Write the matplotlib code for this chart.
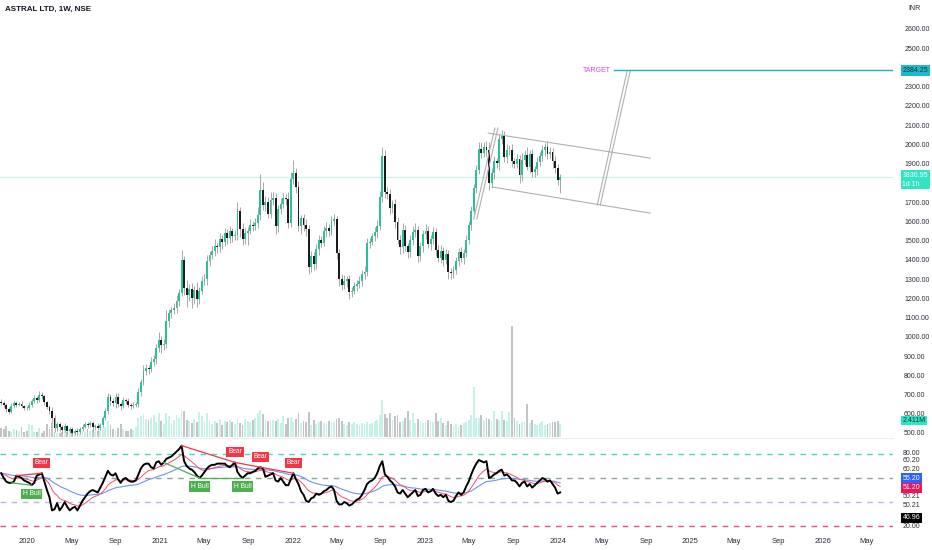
import numpy as np
import pandas as pd
import matplotlib
matplotlib.use("Agg")
import matplotlib.pyplot as plt
import matplotlib.dates as mdates
from matplotlib.ticker import FuncFormatter

plt.rcParams['font.family'] = ['Liberation Sans', 'DejaVu Sans']

# weekly candles, the last one is the week of 8 Jan 2024
last_week = "2024-01-08"
first_open = 660

closes = [
    655, 645, 625, 610, 640, 655, 648, 652, 640, 632,
    628, 645, 665, 680, 672, 700, 690, 660, 635, 615,
    580, 525, 545, 530, 515, 535, 510, 520, 500, 512,
    505, 520, 532, 545, 540, 552, 530, 538, 528, 542,
    580, 615, 685, 668, 655, 688, 650, 640, 672, 668,
    645, 638, 648, 652, 712, 765, 822, 838, 832, 870,
    885, 940, 985, 955, 962, 1080, 1125, 1140, 1150, 1185,
    1230, 1400, 1255, 1215, 1250, 1200, 1245, 1195, 1240, 1290,
    1300, 1395, 1425, 1445, 1470, 1465, 1510, 1495, 1540, 1515,
    1548, 1522, 1530, 1655, 1560, 1508, 1538, 1552, 1580, 1575,
    1590, 1635, 1765, 1685, 1700, 1640, 1712, 1722, 1575, 1665,
    1690, 1720, 1715, 1590, 1820, 1850, 1780, 1575, 1615, 1580,
    1560, 1365, 1420, 1380, 1455, 1505, 1490, 1550, 1565, 1548,
    1602, 1610, 1435, 1300, 1270, 1290, 1298, 1232, 1240, 1262,
    1275, 1292, 1325, 1338, 1488, 1495, 1522, 1545, 1578, 1725,
    1940, 1752, 1740, 1668, 1690, 1595, 1505, 1465, 1555, 1470,
    1440, 1505, 1545, 1555, 1420, 1470, 1535, 1552, 1482, 1510,
    1545, 1452, 1410, 1445, 1400, 1430, 1338, 1332, 1345, 1395,
    1440, 1410, 1438, 1505, 1580, 1655, 1775, 1865, 1975, 1958,
    1985, 1970, 1800, 1850, 1912, 1905, 2030, 2045, 1935, 1970,
    1970, 1912, 1900, 1925, 1840, 1920, 1945, 1885, 1950, 1855,
    1870, 1910, 1940, 1970, 1985, 1950, 1960, 1915, 1880, 1815, 1830.95,
]

hi_wick = [
    15, 10, 12, 8, 15, 10, 12, 10, 14, 8,
    10, 18, 12, 15, 10, 20, 12, 10, 8, 10,
    20, 15, 10, 12, 10, 15, 8, 12, 10, 10,
    12, 10, 15, 12, 10, 12, 10, 8, 12, 10,
    10, 15, 25, 20, 15, 18, 20, 12, 15, 10,
    12, 10, 15, 10, 20, 15, 30, 20, 15, 25,
    20, 25, 40, 20, 25, 60, 20, 15, 25, 30,
    20, 50, 20, 40, 25, 30, 20, 40, 20, 25,
    25, 30, 20, 25, 40, 20, 30, 20, 25, 20,
    30, 20, 25, 45, 20, 30, 25, 20, 30, 20,
    25, 40, 80, 40, 30, 25, 40, 30, 25, 20,
    30, 25, 20, 40, 35, 70, 25, 30, 20, 25,
    30, 20, 25, 20, 30, 25, 20, 25, 30, 20,
    25, 30, 20, 20, 25, 30, 20, 25, 20, 25,
    20, 25, 20, 30, 25, 20, 20, 25, 30, 35,
    45, 30, 25, 30, 20, 25, 30, 25, 35, 25,
    20, 25, 30, 35, 20, 25, 20, 35, 25, 20,
    25, 20, 25, 30, 20, 25, 20, 20, 25, 20,
    20, 25, 20, 25, 20, 25, 20, 30, 35, 40,
    30, 35, 40, 25, 30, 20, 25, 30, 25, 30,
    25, 30, 20, 25, 20, 35, 25, 40, 20, 25,
    20, 25, 20, 25, 20, 35, 25, 20, 25, 20, 15,
]

lo_wick = [
    10, 12, 15, 10, 8, 10, 12, 10, 8, 12,
    10, 8, 12, 10, 15, 10, 12, 15, 12, 15,
    30, 20, 15, 20, 15, 12, 15, 12, 10, 10,
    10, 12, 10, 8, 12, 10, 15, 10, 12, 10,
    10, 12, 15, 20, 15, 25, 15, 20, 12, 15,
    12, 15, 10, 12, 15, 20, 15, 20, 25, 15,
    20, 25, 20, 40, 25, 20, 30, 25, 20, 25,
    25, 20, 40, 60, 30, 50, 30, 40, 25, 20,
    20, 30, 25, 20, 25, 30, 25, 40, 25, 30,
    25, 30, 20, 25, 40, 30, 25, 60, 20, 25,
    20, 25, 30, 25, 30, 25, 20, 25, 40, 30,
    25, 20, 30, 25, 20, 25, 30, 25, 40, 30,
    35, 40, 30, 35, 25, 30, 25, 20, 30, 25,
    20, 25, 30, 35, 25, 20, 30, 35, 25, 20,
    25, 20, 30, 25, 20, 25, 20, 25, 30, 25,
    25, 30, 25, 30, 25, 30, 25, 35, 30, 25,
    30, 25, 30, 25, 30, 25, 30, 25, 20, 30,
    25, 30, 20, 25, 30, 20, 35, 30, 25, 20,
    25, 20, 30, 25, 20, 25, 20, 25, 20, 30,
    25, 30, 35, 25, 30, 25, 40, 30, 25, 30,
    25, 30, 20, 25, 40, 30, 25, 20, 35, 25,
    25, 30, 20, 25, 30, 25, 20, 40, 30, 25, 65,
]

# weekly volume, millions of shares
volumes = [
    1.6, 1.4, 2.0, 1.2, 1.0, 1.5, 1.3, 1.1, 1.8, 1.0,
    1.2, 2.5, 2.2, 0.9, 1.0, 1.6, 0.8, 1.2, 2.4, 1.5,
    2.6, 1.0, 0.7, 0.8, 0.9, 1.3, 1.0, 1.2, 0.8, 1.1,
    1.0, 0.9, 1.1, 1.0, 1.4, 1.2, 1.3, 1.5, 1.2, 1.1,
    1.6, 1.8, 3.0, 2.2, 1.5, 1.3, 1.7, 2.4, 1.4, 1.2,
    1.1, 1.5, 1.3, 1.8, 3.5, 3.9, 4.2, 3.4, 3.2, 3.6,
    4.0, 2.8, 4.5, 3.0, 2.5, 4.4, 3.8, 2.6, 3.2, 4.0,
    3.5, 5.0, 4.8, 3.2, 3.0, 2.6, 3.4, 2.8, 4.6, 3.8,
    3.0, 4.4, 3.2, 2.5, 3.0, 2.6, 3.4, 2.2, 3.0, 2.8,
    3.2, 2.7, 2.4, 3.6, 2.6, 2.2, 3.4, 2.9, 2.8, 3.1,
    3.6, 4.5, 5.0, 4.2, 3.1, 3.0, 2.9, 3.2, 3.0, 3.3,
    2.6, 3.8, 2.4, 3.5, 3.7, 2.8, 3.4, 4.5, 2.6, 3.0,
    2.8, 4.6, 2.2, 3.1, 2.4, 2.8, 3.0, 2.6, 2.4, 2.9,
    2.6, 2.8, 3.4, 3.6, 2.9, 2.5, 2.3, 2.7, 2.4, 2.8,
    2.4, 2.2, 2.6, 2.4, 2.8, 2.5, 2.6, 3.0, 3.2, 4.0,
    6.8, 4.2, 3.6, 4.5, 3.2, 3.8, 4.0, 2.8, 3.0, 3.6,
    4.8, 3.2, 4.5, 2.6, 3.4, 3.0, 2.6, 2.8, 3.2, 3.0,
    2.8, 4.5, 3.0, 3.5, 2.6, 2.2, 3.0, 2.4, 2.1, 2.4,
    2.0, 2.2, 2.6, 2.8, 3.2, 4.0, 9.2, 3.6, 3.6, 4.0,
    3.2, 3.5, 3.3, 3.0, 4.8, 3.4, 3.2, 4.8, 3.2, 3.0,
    4.6, 20.5, 3.6, 3.0, 2.4, 2.8, 3.0, 6.2, 2.6, 3.2,
    2.4, 2.2, 2.6, 2.9, 2.2, 2.5, 2.6, 2.8, 2.7, 2.9, 2.411,
]

rsi = [
    64, 60, 57, 56, 56, 57, 62, 61, 60, 58,
    57, 56, 54, 56, 62, 63, 64, 57, 50, 44,
    33, 34, 39, 33, 36, 40, 36, 33, 35, 36,
    33, 37, 41, 44, 47, 49, 50, 49, 48, 52,
    56, 61, 66, 63, 62, 64, 59, 56, 59, 60,
    58, 57, 57, 58, 63, 68, 71, 72, 72, 69,
    68, 73, 74, 71, 73, 76, 77, 78, 80, 82,
    84, 87, 74, 70, 68, 67, 65, 62, 60, 62,
    65, 68, 70, 71, 71, 72, 72, 72, 72, 70,
    69, 71, 73, 65, 62, 60, 62, 64, 64, 65,
    66, 68, 69, 68, 61, 62, 63, 64, 58, 57,
    60, 57, 54, 54, 59, 64, 59, 55, 49, 46,
    41, 40, 43, 44, 47, 46, 47, 49, 50, 52,
    53, 50, 41, 38, 38, 40, 39, 37, 38, 40,
    42, 43, 46, 50, 55, 57, 58, 60, 64, 70,
    74, 63, 61, 58, 56, 53, 48, 47, 50, 47,
    44, 46, 48, 50, 45, 46, 50, 51, 48, 49,
    51, 47, 45, 46, 44, 46, 41, 40, 41, 45,
    48, 46, 48, 53, 57, 63, 68, 72, 75, 74,
    73, 74, 60, 61, 63, 64, 66, 67, 62, 63,
    61, 58, 58, 56, 53, 56, 57, 53, 55, 52,
    54, 56, 58, 60, 59, 57, 58, 55, 52, 47, 48,
]

# divergence pivots (candle index pairs)
bear_pairs = [(6, 16), (71, 92), (92, 102), (102, 115)]
hbull_pairs = [(4, 12), (64, 78), (78, 95)]

# hand drawn flag pattern, (week index, price)
flag_upper = [(191.7, 2059), (255.4, 1929)]
flag_lower = [(193.2, 1779), (255.4, 1643)]
pole_a = [(186.0, 1612), (194.3, 2085)]
pole_b = [(187.2, 1612), (195.5, 2085)]
proj_a = [(234.6, 1685), (246.4, 2384.25)]
proj_b = [(235.8, 1685), (247.6, 2384.25)]
target = 2384.25
target_start = 241.0

n = min(len(closes), len(hi_wick), len(lo_wick), len(volumes), len(rsi))
closes = np.array(closes[:n], dtype=float)
opens = np.r_[first_open, closes[:-1]]
highs = np.maximum(opens, closes) + np.array(hi_wick[:n])
lows = np.minimum(opens, closes) - np.array(lo_wick[:n])
vol = np.array(volumes[:n])
rsi_s = pd.Series(rsi[:n], dtype=float)
rsi_ma = rsi_s.ewm(span=9, adjust=False).mean()
rsi_slow = rsi_s.ewm(span=30, adjust=False).mean()

dates = pd.date_range(end=last_week, periods=n, freq="7D")
x = mdates.date2num(dates)
x0 = x[0]

def wx(i):
    return x0 + 7 * i

W, H = 932, 550
fig = plt.figure(figsize=(W / 100, H / 100), dpi=100)
fig.patch.set_facecolor("white")

ax = fig.add_axes([0, (H - 437) / H, 893 / W, 437 / H])
ax_r = fig.add_axes([0, (H - 532) / H, 893 / W, 92 / H], sharex=ax)
axv = ax.twinx()

up = closes >= opens
green = "#2bbf9c"
black = "#1c1c1c"

# volume
axv.bar(x, vol, width=5.0, color=np.where(up, "#c6f3e9", "#c4c4c6"), linewidth=0)
axv.set_ylim(0, 437 / 5.4)
axv.axis("off")
ax.set_zorder(axv.get_zorder() + 1)
ax.patch.set_visible(False)

# candles
ax.vlines(x, lows, highs, color="#9a9a9a", lw=0.6, zorder=2)
body = np.maximum(np.abs(closes - opens), 3)
ax.bar(x, body, bottom=np.minimum(opens, closes), width=5.2,
       color=np.where(up, green, black), linewidth=0, zorder=3)

ax.axhline(closes[-1], color="#c9f5ec", lw=0.9, zorder=1)

line_col = "#b0b0b0"
for seg in (flag_upper, flag_lower, pole_a, pole_b, proj_a, proj_b):
    ax.plot([wx(seg[0][0]), wx(seg[1][0])], [seg[0][1], seg[1][1]],
            color=line_col, lw=0.8, zorder=4)
ax.plot([wx(target_start), x[-1] + 2000], [target, target], color="#1faec4", lw=1, zorder=4)
ax.text(wx(target_start) - 1 * 7, target, "TARGET", color="#e040fb", fontsize=5,
        ha="right", va="center")

ax.set_xlim(x0 - 3.3, x[-1] + 917)
ax.set_ylim(479.2, 2750.7)
ax.yaxis.tick_right()
# 1800 and 2400 sit under the price badges
ax.set_yticks([v for v in range(500, 2700, 100) if v not in (1800, 2400)])
ax.yaxis.set_major_formatter(FuncFormatter(lambda v, p: f"{v:.2f}"))
ax.tick_params(axis="y", length=0, pad=8, labelsize=5, labelcolor="#2a2e39")
ax.tick_params(axis="x", bottom=False, labelbottom=False)
for s in ax.spines.values():
    s.set_visible(False)

lx = 1.0105
yt = ax.get_yaxis_transform()
ax.text(lx, target, "2384.25", transform=yt, fontsize=5, color="#0b3640",
        va="center", ha="left", bbox=dict(fc="#1fb8cc", ec="none", pad=1.2))
ax.text(lx, 1856, "1830.95\n1d 1h", transform=yt, fontsize=5, color="#ffffff",
        va="top", ha="left", linespacing=1.3, bbox=dict(fc="#2ee6c2", ec="none", pad=1.3))
ax.text(lx, vol[-1], "2.411M", transform=axv.get_yaxis_transform(), fontsize=5,
        color="#0b3640", va="bottom", ha="left", bbox=dict(fc="#2ee6c2", ec="none", pad=1.0))
fig.text(908 / W, 1 - 9 / H, "INR", fontsize=5, color="#2a2e39", va="center")
fig.text(5 / W, 1 - 9 / H, "ASTRAL LTD, 1W, NSE", fontsize=5.8, weight="bold",
         color="#131722", va="center")

# RSI panel
for lvl, c in [(80, "#4fd3b8"), (60, "#8aa896"), (40, "#b9b7e8"), (20, "#e2507a")]:
    ax_r.axhline(lvl, color=c, lw=1, dashes=(4, 4))
ax_r.plot(x, rsi_slow, color="#6f93ea", lw=0.8)
ax_r.plot(x, rsi_ma, color="#f0506e", lw=0.7)
ax_r.plot(x, rsi_s, color="#000000", lw=1.4)

for a, b in bear_pairs:
    ax_r.plot([x[a], x[b]], [rsi_s[a], rsi_s[b]], color="#f23645", lw=0.9)
    ax_r.annotate("Bear", (x[b], rsi_s[b]), xytext=(0, 7), textcoords="offset pixels",
                  fontsize=4.8, color="white", ha="center", va="bottom",
                  bbox=dict(fc="#f23645", ec="none", pad=1.2))
for a, b in hbull_pairs:
    ax_r.plot([x[a], x[b]], [rsi_s[a], rsi_s[b]], color="#4caf50", lw=0.9)
    ax_r.annotate("H Bull", (x[b], rsi_s[b]), xytext=(0, -5), textcoords="offset pixels",
                  fontsize=4.8, color="white", ha="center", va="top",
                  bbox=dict(fc="#4caf50", ec="none", pad=1.2))

ax_r.set_ylim(15, 91.7)
ax_r.set_yticks([])
for s in ax_r.spines.values():
    s.set_visible(False)
ax_r.xaxis.set_major_locator(mdates.MonthLocator(bymonth=[1, 5, 9]))
ax_r.xaxis.set_major_formatter(FuncFormatter(
    lambda v, p: str(mdates.num2date(v).year) if mdates.num2date(v).month == 1
    else mdates.num2date(v).strftime("%b")))
ax_r.tick_params(axis="x", length=0, pad=4, labelsize=5.5, labelcolor="#2a2e39")

ryt = ax_r.get_yaxis_transform()
rsi_labels = [("80.00", 80.8, None), ("60.20", 74.2, None), ("60.20", 66.7, None),
              ("55.20", 60.0, "#2962ff"), ("51.20", 51.7, "#f0145a"),
              ("50.21", 44.2, None), ("50.21", 36.7, None),
              ("46.96", 26.7, "#000000"), ("20.00", 20.0, None)]
for txt, yv, bg in rsi_labels:
    if bg:
        ax_r.text(lx, yv, txt, transform=ryt, fontsize=5, color="white", va="center",
                  ha="left", bbox=dict(fc=bg, ec="none", pad=1.1))
    else:
        ax_r.text(lx, yv, txt, transform=ryt, fontsize=5, color="#2a2e39",
                  va="center", ha="left")

fig.add_artist(plt.Line2D([0, 893 / W], [1 - 438 / H, 1 - 438 / H],
                          color="#eeeeee", lw=0.8))

fig.savefig("out.png", dpi=100, facecolor="white")
